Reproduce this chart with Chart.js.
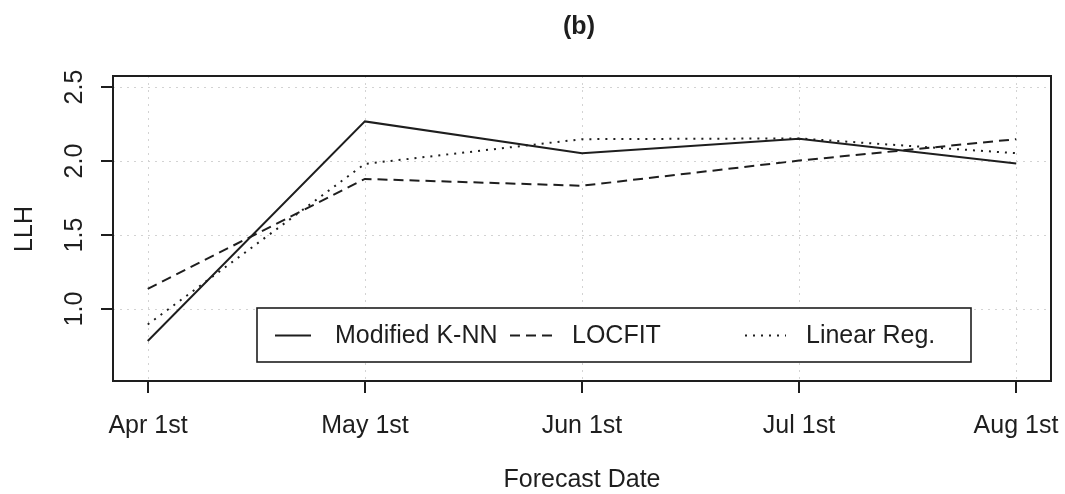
<!DOCTYPE html>
<html>
<head>
<meta charset="utf-8">
<script src="https://cdn.jsdelivr.net/npm/chart.js@4/dist/chart.umd.min.js"></script>
<style>
  html, body { margin: 0; padding: 0; background: #fff; }
  #wrap { width: 1065px; height: 494px; position: relative; }
</style>
</head>
<body>
<div id="wrap"><canvas id="c" width="1065" height="494"></canvas></div>
<script>
// Forecast dates and LLH scores per method
const categories = ['Apr 1st', 'May 1st', 'Jun 1st', 'Jul 1st', 'Aug 1st'];
const knnValues = [0.78, 2.265, 2.05, 2.147, 1.98];
const locfitValues = [1.133, 1.876, 1.83, 2.0, 2.145];
const linregValues = [0.892, 1.978, 2.145, 2.15, 2.05];
const yTickValues = [1.0, 1.5, 2.0, 2.5];
const yTickLabels = ['1.0', '1.5', '2.0', '2.5'];
const seriesNames = ['Modified K-NN', 'LOCFIT', 'Linear Reg.'];

const FONT = '"Liberation Sans", Arial, sans-serif';
const INK = '#1e1e1e';

const toPoints = vals => vals.map((v, i) => ({ x: i, y: v }));

const dashes = [[], [10, 6], [2, 6]];

const rFrame = {
  id: 'rFrame',
  beforeDatasetsDraw(chart) {
    const { ctx, chartArea: a, scales: { x, y } } = chart;
    ctx.save();
    ctx.strokeStyle = '#d3d3d3';
    ctx.lineWidth = 1;
    ctx.setLineDash([2, 5]);
    categories.forEach((_, i) => {
      const px = Math.round(x.getPixelForValue(i)) + 0.5;
      ctx.beginPath(); ctx.moveTo(px, a.top); ctx.lineTo(px, a.bottom); ctx.stroke();
    });
    yTickValues.forEach(v => {
      const py = Math.round(y.getPixelForValue(v)) + 0.5;
      ctx.beginPath(); ctx.moveTo(a.left, py); ctx.lineTo(a.right, py); ctx.stroke();
    });
    ctx.restore();
  },
  afterDatasetsDraw(chart) {
    const { ctx, chartArea: a, scales: { x, y } } = chart;
    ctx.save();
    ctx.setLineDash([]);
    ctx.strokeStyle = INK;
    ctx.fillStyle = INK;
    ctx.lineWidth = 2;
    // plot box
    ctx.strokeRect(a.left, a.top, a.right - a.left, a.bottom - a.top);

    // x axis ticks and labels
    ctx.font = '25px ' + FONT;
    ctx.textAlign = 'center';
    ctx.textBaseline = 'alphabetic';
    categories.forEach((lab, i) => {
      const px = Math.round(x.getPixelForValue(i));
      ctx.beginPath(); ctx.moveTo(px, a.bottom); ctx.lineTo(px, a.bottom + 12); ctx.stroke();
      ctx.fillText(lab, px, 433);
    });

    // y axis ticks and rotated labels
    yTickValues.forEach((v, i) => {
      const py = Math.round(y.getPixelForValue(v));
      ctx.beginPath(); ctx.moveTo(a.left, py); ctx.lineTo(a.left - 12, py); ctx.stroke();
      ctx.save();
      ctx.translate(82, py);
      ctx.rotate(-Math.PI / 2);
      ctx.textAlign = 'center';
      ctx.fillText(yTickLabels[i], 0, 0);
      ctx.restore();
    });

    // axis titles and main title
    ctx.textAlign = 'center';
    ctx.fillText('Forecast Date', (a.left + a.right) / 2, 487);
    ctx.save();
    ctx.translate(32, 229);
    ctx.rotate(-Math.PI / 2);
    ctx.fillText('LLH', 0, 0);
    ctx.restore();
    ctx.font = 'bold 25px ' + FONT;
    ctx.fillText('(b)', 579, 34);

    // legend
    const lx = 257, ly = 308, lw = 714, lh = 54;
    ctx.fillStyle = '#fff';
    ctx.fillRect(lx, ly, lw, lh);
    ctx.lineWidth = 1.6;
    ctx.strokeRect(lx, ly, lw, lh);
    const cy = ly + lh / 2 + 0.5;
    const items = [
      { x0: 275, x1: 311, tx: 335 },
      { x0: 510, x1: 552, tx: 572 },
      { x0: 745, x1: 786, tx: 806 }
    ];
    ctx.font = '25px ' + FONT;
    ctx.textAlign = 'left';
    ctx.textBaseline = 'middle';
    items.forEach((it, k) => {
      const ds = chart.data.datasets[k];
      ctx.strokeStyle = ds.borderColor;
      ctx.lineWidth = ds.borderWidth;
      ctx.setLineDash(ds.borderDash);
      ctx.beginPath(); ctx.moveTo(it.x0, cy); ctx.lineTo(it.x1, cy); ctx.stroke();
      ctx.setLineDash([]);
      ctx.fillStyle = INK;
      ctx.fillText(seriesNames[k], it.tx, cy + 1);
    });
    ctx.restore();
  }
};

new Chart(document.getElementById('c'), {
  type: 'line',
  data: {
    datasets: [knnValues, locfitValues, linregValues].map((vals, k) => ({
      label: seriesNames[k],
      data: toPoints(vals),
      borderColor: INK,
      borderWidth: 2,
      borderDash: dashes[k],
      pointRadius: 0,
      tension: 0,
      fill: false
    }))
  },
  options: {
    responsive: false,
    animation: false,
    events: [],
    layout: { padding: { left: 0, top: 76, right: 14, bottom: 0 } },
    plugins: { legend: { display: false }, tooltip: { enabled: false }, title: { display: false } },
    scales: {
      x: {
        type: 'linear', min: -0.16, max: 4.16,
        ticks: { display: false }, grid: { display: false }, border: { display: false },
        afterFit(s) { s.height = 113; }
      },
      y: {
        type: 'linear', min: 0.51, max: 2.572,
        ticks: { display: false }, grid: { display: false }, border: { display: false },
        afterFit(s) { s.width = 113; }
      }
    }
  },
  plugins: [rFrame]
});
</script>
</body>
</html>
